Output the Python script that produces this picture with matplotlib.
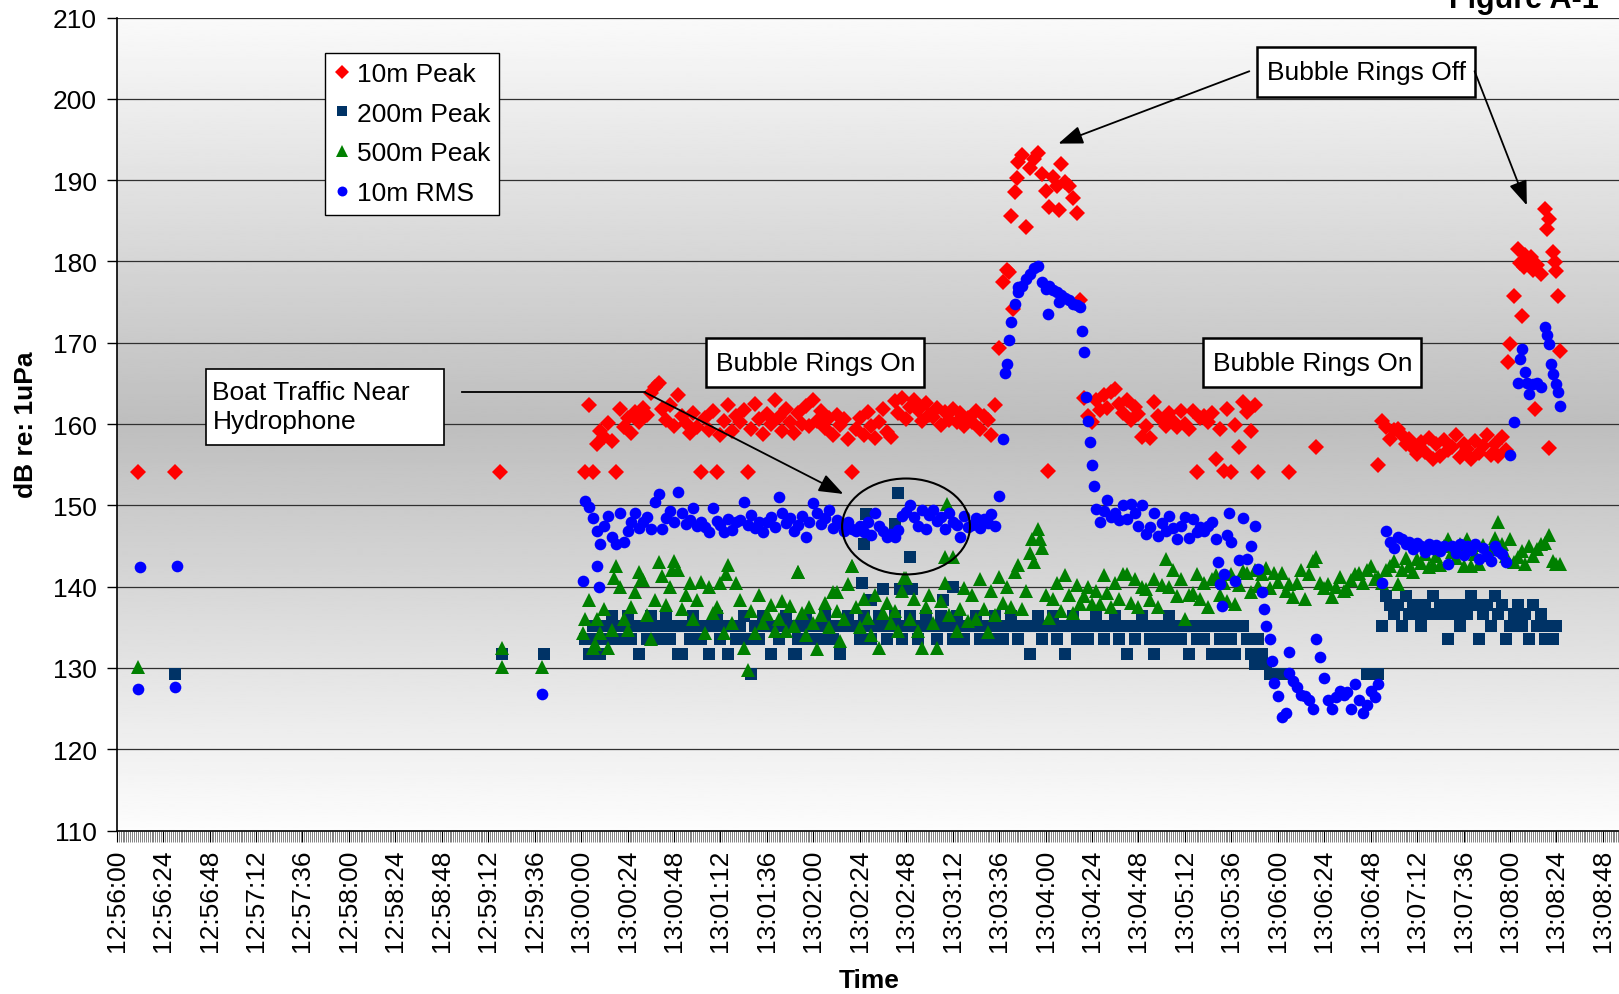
import numpy as np
import matplotlib
matplotlib.use("Agg")
import matplotlib.pyplot as plt
from matplotlib.patches import Ellipse, Rectangle
from matplotlib.lines import Line2D

plt.rcParams['font.family'] = ['Liberation Sans', 'DejaVu Sans']

nan = np.nan

# time axis: seconds after 12:56:00, one tick label every 24 s
tick_labels = ["12:56:00", "12:56:24", "12:56:48", "12:57:12", "12:57:36", "12:58:00",
               "12:58:24", "12:58:48", "12:59:12", "12:59:36", "13:00:00", "13:00:24",
               "13:00:48", "13:01:12", "13:01:36", "13:02:00", "13:02:24", "13:02:48",
               "13:03:12", "13:03:36", "13:04:00", "13:04:24", "13:04:48", "13:05:12",
               "13:05:36", "13:06:00", "13:06:24", "13:06:48", "13:07:12", "13:07:36",
               "13:08:00", "13:08:24", "13:08:48"]

# scattered readings before the main run
early_peak10_t = [11, 30, 198]
early_peak10 = [154.1, 154.1, 154.1]
early_peak200_t = [30, 199, 221]
early_peak200 = [129.2, 131.7, 131.7]
early_peak500_t = [11, 199, 199, 220]
early_peak500 = [130.1, 132.5, 130.1, 130.1]
early_rms10_t = [12, 11, 31, 30, 220]
early_rms10 = [142.4, 127.4, 142.5, 127.6, 126.8]

# main run, one reading every 2 s starting 13:00:02 (t = 242 s)
main_start = 242
peak10 = [
    154.1, 162.4, 154.1, 157.6, 159.2, 158.4, 160.1, 157.9, 154.1, 161.8,
    159.6, 160.8, 158.9, 161.5, 160.2, 162.0, 161.1, 163.8, 164.6, 165.0,
    161.9, 160.5, 162.4, 159.8, 163.6, 161.0, 160.1, 158.9, 161.3, 159.6,
    154.1, 160.8, 159.3, 161.6, 154.1, 158.6, 160.4, 162.3, 159.1, 161.0,
    160.2, 161.7, 154.1, 159.4, 162.5, 160.6, 158.8, 161.2, 160.0, 162.9,
    160.9, 159.2, 161.8, 160.3, 158.9, 161.4, 160.0, 162.2, 159.7, 163.0,
    160.4, 161.6, 159.5, 160.8, 158.7, 161.1, 159.9, 160.6, 158.2, 154.1,
    159.4, 160.7, 158.6, 161.5, 159.8, 158.3, 160.2, 161.9, 159.0, 158.4,
    162.8, 161.4, 163.2, 160.6, 162.1, 163.0, 161.7, 160.4, 162.6, 161.1,
    160.9, 162.0, 159.9, 161.5, 160.5, 161.8, 160.2, 161.3, 159.7, 160.8,
    160.3, 161.6, 159.4, 161.0, 160.5, 158.6, 162.4, 169.3, 177.5, 179.0,
    185.6, 188.5, 192.2, 193.1, 184.3, 191.5, 192.6, 193.3, 190.7, 188.7,
    186.7, 190.4, 189.3, 192.0, 189.8, 189.3, 187.8, 186.0, 175.3, 163.2,
    161.0, 160.2, 162.9, 161.7, 163.6, 162.0, 163.9, 164.3, 162.5, 161.4,
    163.0, 160.5, 162.1, 161.2, 158.4, 159.8, 158.3, 162.7, 161.0, 160.5,
    159.7, 161.3, 160.4, 159.6, 161.6, 160.0, 159.4, 161.6, 154.1, 160.8,
    161.0, 160.2, 161.3, 155.7, 159.4, 154.2, 161.8, 154.1, 159.9, 157.2,
    162.7, 161.5, 159.2, 162.4, 154.1, nan, nan, nan, nan, nan,
    nan, nan, 154.1, nan, nan, nan, nan, nan, nan, 157.2,
    nan, nan, nan, nan, nan, nan, nan, nan, nan, nan,
    nan, nan, nan, nan, nan, 155.0, 160.4, 159.6, 158.2, 159.3,
    159.4, 158.6, 157.5, 158.1, 157.0, 156.3, 157.8, 156.6, 158.3, 155.7,
    157.5, 156.1, 158.0, 156.8, 157.2, 158.6, 156.0, 157.6, 156.9, 155.7,
    157.9, 156.4, 157.3, 158.6, 156.2, 157.5, 156.1, 158.4, 156.8, 169.8,
    175.7, 181.5, 173.3, 180.8, 180.2, 179.0, 179.6, 178.4, 186.4, 185.2,
    181.2, 178.8]
peak200 = [
    133.5, 131.7, 135.2, 133.5, 131.7, 135.2, 133.5, 136.4, 135.2, 133.5,
    135.2, 136.4, 133.5, 135.2, 131.7, 135.2, 133.5, 136.4, 135.2, 133.5,
    135.2, 136.4, 133.5, 135.2, 131.7, 131.7, 135.2, 133.5, 136.4, 135.2,
    133.5, 135.2, 131.7, 135.2, 136.4, 133.5, 135.2, 131.7, 135.2, 133.5,
    135.2, 136.4, 133.5, 129.2, 135.2, 133.5, 136.4, 135.2, 131.7, 135.2,
    133.5, 135.2, 136.4, 135.2, 131.7, 133.5, 135.2, 136.4, 133.5, 135.2,
    135.2, 133.5, 136.4, 135.2, 133.5, 135.2, 131.7, 135.2, 136.4, 135.2,
    135.2, 133.5, 136.4, 135.2, 133.5, 135.2, 136.4, 135.2, 133.5, 135.2,
    136.4, 135.2, 133.5, 135.2, 136.4, 135.2, 133.5, 135.2, 136.4, 135.2,
    135.2, 133.5, 136.4, 135.2, 135.2, 133.5, 136.4, 135.2, 133.5, 135.2,
    135.2, 136.4, 133.5, 135.2, 135.2, 133.5, 136.4, 135.2, 133.5, 135.2,
    136.4, 135.2, 133.5, 135.2, 135.2, 131.7, 135.2, 136.4, 133.5, 135.2,
    135.2, 136.4, 133.5, 135.2, 131.7, 135.2, 136.4, 133.5, 135.2, 135.2,
    133.5, 135.2, 136.4, 135.2, 133.5, 135.2, 135.2, 136.4, 133.5, 135.2,
    131.7, 135.2, 133.5, 135.2, 136.4, 135.2, 133.5, 131.7, 135.2, 133.5,
    135.2, 136.4, 133.5, 135.2, 133.5, 135.2, 131.7, 135.2, 133.5, 135.2,
    133.5, 135.2, 131.7, 135.2, 133.5, 131.7, 135.2, 133.5, 131.7, 135.2,
    135.2, 133.5, 131.7, 130.5, 133.5, 131.7, 130.5, 129.2, 129.2, 129.2,
    129.2, 129.2, nan, nan, nan, nan, nan, nan, nan, nan,
    nan, nan, nan, nan, nan, nan, nan, nan, nan, nan,
    nan, nan, 129.2, 129.2, 129.2, 129.2, 135.2, 138.8, 137.8, 136.6,
    137.8, 135.2, 138.8, 136.6, 137.8, 136.6, 135.2, 137.8, 136.6, 138.8,
    136.6, 137.8, 136.6, 133.5, 137.8, 136.6, 135.2, 137.8, 136.6, 138.8,
    137.8, 133.5, 136.6, 137.8, 135.2, 138.8, 136.6, 137.8, 133.5, 135.2,
    136.6, 137.8, 135.2, 136.6, 133.5, 137.8, 135.2, 136.6, 133.5, 135.2,
    133.5, 135.2]
peak500 = [
    136.0, 138.4, 132.5, 136.0, 134.3, 137.3, 132.5, 134.7, 142.5, 140.0,
    136.0, 134.7, 137.5, 139.4, 141.8, 140.8, 136.5, 133.5, 138.4, 143.0,
    141.3, 137.8, 140.0, 143.1, 142.0, 137.2, 139.0, 140.5, 136.0, 138.4,
    140.6, 134.3, 140.0, 136.8, 137.5, 140.5, 134.3, 142.7, 135.5, 140.5,
    138.4, 132.5, 129.8, 137.0, 134.3, 139.0, 135.5, 136.6, 137.8, 134.5,
    136.0, 138.2, 134.5, 137.6, 135.2, 141.8, 136.8, 134.0, 137.5, 135.5,
    132.3, 136.5, 138.0, 135.0, 139.4, 137.0, 133.3, 136.0, 140.3, 142.5,
    137.5, 135.0, 138.5, 136.2, 134.0, 139.0, 132.5, 136.8, 138.0, 135.5,
    137.0, 134.5, 139.5, 141.1, 136.0, 138.5, 134.5, 132.5, 137.5, 139.0,
    135.5, 132.5, 138.2, 140.5, 136.5, 143.7, 134.5, 137.2, 139.8, 135.8,
    139.0, 136.0, 141.0, 137.3, 134.4, 139.5, 136.5, 141.2, 138.0, 140.0,
    137.5, 141.8, 142.7, 137.3, 139.5, 144.1, 143.0, 147.1, 144.7, 139.0,
    136.2, 138.5, 140.5, 137.0, 141.4, 139.0, 136.8, 140.2, 137.9, 138.8,
    140.0, 137.9, 139.5, 137.9, 141.4, 139.2, 137.5, 140.5, 138.5, 141.6,
    141.6, 138.0, 141.0, 137.5, 140.0, 139.7, 138.3, 141.0, 137.5, 140.2,
    143.4, 140.0, 142.1, 138.8, 141.0, 136.0, 139.0, 139.2, 141.5, 138.5,
    140.5, 137.5, 141.0, 141.4, 139.0, 140.5, 138.2, 141.5, 137.9, 140.2,
    141.9, 141.7, 139.3, 142.0, 140.1, 141.5, 142.3, 139.8, 141.7, 140.6,
    141.7, 139.5, 140.3, 138.7, 140.5, 142.0, 138.5, 141.5, 143.1, 143.7,
    140.5, 139.8, 140.3, 138.7, 140.0, 141.2, 139.5, 139.7, 140.8, 141.5,
    141.7, 140.5, 142.0, 142.5, 141.0, 141.2, 140.5, 142.0, 142.5, 143.1,
    140.3, 142.1, 143.5, 142.5, 141.8, 143.4, 142.9, 144.0, 142.4, 142.7,
    143.8, 142.6, 145.0, 145.8, 144.2, 143.5, 145.2, 142.5, 145.8, 142.5,
    144.0, 142.8, 145.1, 143.9, 144.6, 146.0, 147.9, 145.2, 143.8, 145.8,
    143.0, 143.6, 144.4, 142.8, 145.0, 143.8, 144.6, 145.2, 145.4, 146.3,
    143.1, 142.8]
rms10 = [
    150.5, 149.8, 148.5, 146.8, 145.2, 147.4, 148.7, 146.1, 145.2, 149.1,
    145.5, 146.8, 148.0, 149.1, 147.2, 147.9, 148.6, 147.1, 150.4, 151.4,
    147.1, 148.5, 149.3, 148.0, 151.6, 149.1, 147.7, 148.2, 149.7, 147.5,
    148.0, 147.3, 146.7, 149.7, 148.1, 147.6, 146.7, 148.3, 147.0, 147.9,
    148.2, 150.4, 147.6, 148.8, 147.2, 148.0, 146.7, 147.9, 148.6, 147.3,
    151.0, 149.1, 147.8, 148.4, 146.9, 147.6, 148.7, 146.1, 148.0, 150.3,
    149.1, 147.7, 148.5, 149.4, 147.2, 148.2, 147.8, 146.9, 148.0, 147.1,
    146.8, 147.5, 146.7, 147.9, 146.3, 149.1, 147.4, 146.8, 146.1, 146.5,
    146.1, 147.0, 148.7, 149.2, 150.0, 148.6, 147.5, 149.4, 147.1, 148.8,
    149.4, 148.1, 148.6, 147.1, 149.1, 148.0, 147.6, 146.1, 148.7, 147.3,
    147.6, 148.5, 147.2, 148.3, 147.8, 148.9, 147.5, 151.1, 158.1, 167.4,
    172.6, 174.8, 176.2, 177.0, 177.8, 178.4, 179.2, 179.5, 177.5, 176.6,
    177.0, 176.5, 176.2, 175.9, 175.5, 175.2, 174.8, 174.6, 174.4, 168.9,
    160.4, 155.0, 149.6, 148.0, 149.3, 150.6, 148.6, 149.1, 148.2, 150.0,
    148.3, 150.2, 149.0, 147.4, 150.0, 146.5, 147.3, 149.1, 146.2, 147.8,
    146.9, 148.7, 147.2, 145.8, 147.5, 148.6, 146.0, 148.3, 146.7, 147.3,
    146.8, 147.5, 148.0, 145.8, 140.3, 141.5, 146.3, 145.5, 140.7, 143.3,
    148.5, 143.4, 145.0, 147.4, 142.2, 139.4, 135.1, 133.6, 128.1, 126.6,
    124.0, 124.5, 131.9, 128.4, 127.7, 126.7, 126.5, 126.1, 125.0, 133.6,
    131.4, 128.7, 126.1, 124.9, 126.4, 127.2, 126.7, 127.0, 124.9, 128.0,
    126.1, 124.5, 125.5, 127.2, 126.4, 128.0, 140.4, 146.8, 145.5, 144.8,
    146.1, 145.8, 145.2, 145.5, 144.6, 145.4, 145.0, 144.3, 145.3, 144.6,
    145.1, 144.4, 145.0, 142.8, 145.0, 144.1, 145.2, 143.9, 145.0, 144.5,
    145.3, 143.4, 144.8, 143.8, 143.2, 145.0, 144.4, 144.0, 143.0, 156.2,
    160.2, 165.1, 169.2, 166.4, 163.7, 164.9, 165.1, 164.5, 172.0, 169.8,
    166.1, 164.9]

# extra readings between the 2 s samples (outliers, fast changes)
extra_peak10_t = [461, 463, 465, 481, 487, 719, 725, 727, 731, 733, 739, 740, 743, 745, 746]
extra_peak10 = [178.7, 174.2, 190.3, 154.2, 186.3, 167.6, 179.8, 179.3, 180.6, 161.8,
                184.0, 157.1, 179.9, 175.7, 169.0]
extra_peak200_t = [351, 385, 386, 387, 390, 396, 402, 404, 405, 410, 411, 427, 432]
extra_peak200 = [131.7, 140.5, 145.2, 148.9, 138.4, 139.7, 147.7, 151.5, 139.7, 143.6,
                 139.7, 138.4, 140.0]
extra_peak500_t = [241, 247, 257, 271, 287, 315, 352, 372, 380, 407, 428, 429, 473, 477, 746]
extra_peak500 = [134.3, 133.0, 141.1, 140.8, 142.0, 141.5, 141.8, 139.4, 142.5, 141.1,
                 143.7, 150.2, 145.8, 145.8, 142.8]
extra_rms10_t = [241, 248, 249, 459, 461, 466, 481, 487, 499, 501, 503, 505, 569, 571,
                 575, 593, 597, 606, 725, 729, 739, 741, 745, 746]
extra_rms10 = [140.7, 142.5, 139.9, 166.3, 170.4, 176.9, 173.5, 175.0, 171.5, 163.3,
               157.8, 152.4, 143.0, 137.6, 149.1, 137.2, 130.8, 129.4, 168.0, 165.1,
               171.0, 167.4, 163.9, 162.2]


def series(early_t, early_v, main_v, extra_t, extra_v):
    main_t = main_start + 2 * np.arange(len(main_v))
    t = np.concatenate([early_t, main_t, extra_t])
    v = np.concatenate([early_v, main_v, extra_v])
    return t, v


fig = plt.figure(figsize=(16.19, 9.95), dpi=100)
ax = fig.add_axes([116.7 / 1619, 1 - 831.5 / 995, 1503.6 / 1619, 812.9 / 995])
ax.set_xlim(0, 777)
ax.set_ylim(110, 210)

# grey gradient plot area (light top and bottom, darker middle)
lv = np.linspace(110, 210, 400)
shade = np.where(lv >= 160, 0.745 + (lv - 160) / 50 * 0.235, 0.745 + (160 - lv) / 50 * 0.245)
ax.imshow(shade[::-1].reshape(-1, 1), extent=[0, 1, 0, 1], transform=ax.transAxes,
          aspect='auto', cmap='gray', vmin=0, vmax=1, zorder=0, interpolation='bilinear')

ax.set_axisbelow(True)
ax.yaxis.grid(True, color='#303030', lw=0.9)

styles = [
    ("10m Peak", (early_peak10_t, early_peak10, peak10, extra_peak10_t, extra_peak10), 'D', '#FF0000', 8.6),
    ("200m Peak", (early_peak200_t, early_peak200, peak200, extra_peak200_t, extra_peak200), 's', '#003366', 8.2),
    ("500m Peak", (early_peak500_t, early_peak500, peak500, extra_peak500_t, extra_peak500), '^', '#008000', 10.2),
    ("10m RMS", (early_rms10_t, early_rms10, rms10, extra_rms10_t, extra_rms10), 'o', '#0000FF', 8.4),
]
handles = []
for name, parts, mk, col, ms in styles:
    t, v = series(*parts)
    ax.plot(t, v, linestyle='none', marker=mk, color=col, ms=ms, mew=0, zorder=3)
    handles.append(Line2D([], [], linestyle='none', marker=mk, color=col, ms=ms * 0.85, mew=0, label=name))

leg = ax.legend(handles=handles, loc='upper left', bbox_to_anchor=(0.1385, 0.957),
                borderaxespad=0, fontsize=19, frameon=True, fancybox=False, framealpha=1,
                edgecolor='black', handlelength=0.6, handletextpad=0.25, borderpad=0.35,
                labelspacing=0.6)
leg.get_frame().set_linewidth(1.0)
leg.set_zorder(10)

# axes styling
for s in ['top', 'right']:
    ax.spines[s].set_visible(False)
ax.spines['left'].set_linewidth(1.2)
ax.spines['bottom'].set_linewidth(1.2)
ax.set_yticks(np.arange(110, 211, 10))
ax.tick_params(axis='y', labelsize=19, length=7.5, width=1, pad=7)
ax.set_xticks(np.arange(len(tick_labels)) * 24)
ax.set_xticklabels(tick_labels, rotation=90, fontsize=19)
ax.set_xticks(np.arange(0, 777, 1), minor=True)
ax.tick_params(axis='x', which='major', length=8, width=0.8, pad=5)
ax.tick_params(axis='x', which='minor', length=8, width=0.5, color='#505050')

fig.text(26 / 1619, 1 - 425 / 995, 'dB re: 1uPa', rotation=90, ha='center', va='center',
         fontsize=19, fontweight='bold')
fig.text(869 / 1619, 1 - 981 / 995, 'Time', ha='center', va='center', fontsize=19, fontweight='bold')
# title sits partly above the top edge, as in the source figure
fig.text(1599 / 1619, 1 - 8 / 995, 'Figure A-1', ha='right', va='baseline', fontsize=22,
         fontweight='bold')

# annotation boxes (data coordinates)
def box(t0, t1, v0, v1, lw):
    ax.add_patch(Rectangle((t0, v0), t1 - t0, v1 - v0, facecolor='white', edgecolor='black',
                           lw=lw, zorder=8))

box(46.4, 169.1, 157.4, 166.8, 1.2)
ax.text(49.5, 162.2, "Boat Traffic Near\nHydrophone", ha='left', va='center', fontsize=19,
        linespacing=1.25, zorder=9)
box(304.6, 417.3, 164.5, 170.6, 1.8)
ax.text(361.0, 167.55, "Bubble Rings On", ha='center', va='center', fontsize=19, zorder=9)
box(561.5, 674.2, 164.5, 170.6, 1.8)
ax.text(617.9, 167.55, "Bubble Rings On", ha='center', va='center', fontsize=19, zorder=9)
box(589.3, 702.0, 200.2, 206.4, 1.8)
ax.text(645.6, 203.3, "Bubble Rings Off", ha='center', va='center', fontsize=19, zorder=9)

arrow = dict(arrowstyle='-|>,head_length=0.75,head_width=0.28', color='black', lw=1.3,
             mutation_scale=20, shrinkA=0, shrinkB=0)
ax.plot([178.2, 273.0], [163.9, 163.9], color='black', lw=1.3, zorder=8)
ax.annotate('', xy=(375.5, 151.4), xytext=(273.0, 163.9), arrowprops=arrow, zorder=8)
ax.annotate('', xy=(486.6, 194.5), xytext=(585.3, 203.4), arrowprops=arrow, zorder=8)
ax.annotate('', xy=(728.7, 186.9), xytext=(701.7, 203.4), arrowprops=arrow, zorder=8)

ax.add_patch(Ellipse((407.9, 147.4), 66.1, 11.8, fill=False, edgecolor='black', lw=1.5, zorder=6))

fig.savefig('out.png', dpi=100)
